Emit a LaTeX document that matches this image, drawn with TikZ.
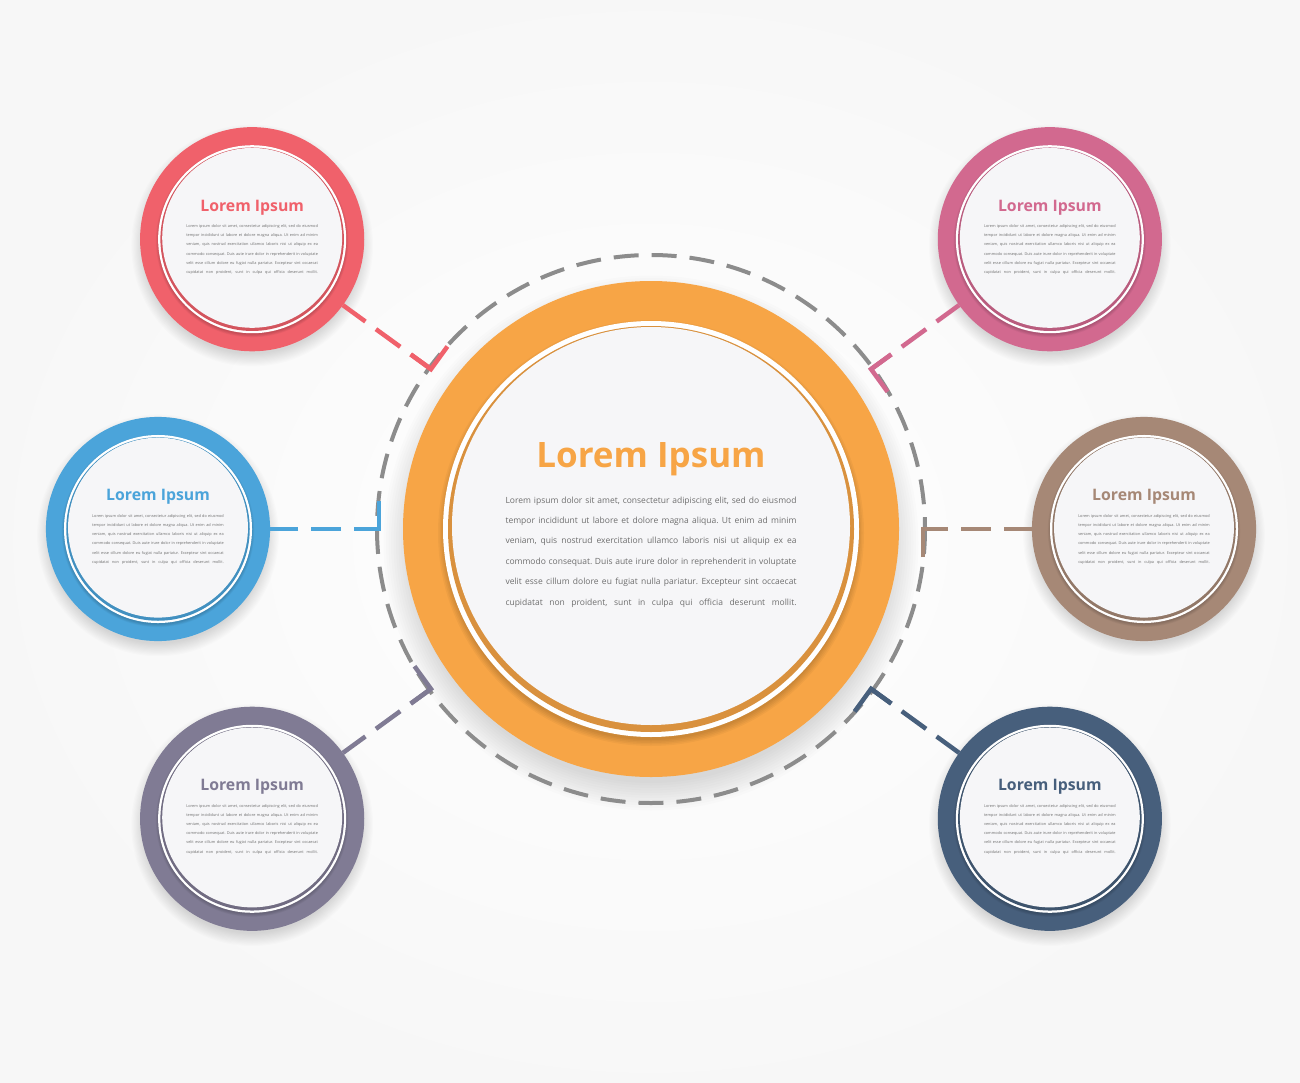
\documentclass[tikz,border=0pt]{standalone}
\usepackage{fontspec}
\setmainfont{Open Sans}
\usetikzlibrary{calc}
\definecolor{cRed}{HTML}{F0616B}
\definecolor{cPink}{HTML}{D2698F}
\definecolor{cBlue}{HTML}{4BA4DA}
\definecolor{cBrown}{HTML}{A68876}
\definecolor{cPurple}{HTML}{807B94}
\definecolor{cNavy}{HTML}{475F7C}
\definecolor{cOrange}{HTML}{F7A546}
\definecolor{cDash}{HTML}{8C8C8C}
\definecolor{cBody}{HTML}{6E6E6E}
\definecolor{cFill}{HTML}{F6F6F8}
\frenchspacing
\tikzset{
  conn/.style={line width=4.5pt},
  titlefont/.style={font=\fontsize{35}{40}\selectfont\bfseries},
  bodyfont/.style={font=\fontsize{8.5}{10}\selectfont},
  pics/infocircle/.style={code={
    \foreach \k in {0,...,11}
      \fill[black, opacity=0.012] (0,14) circle[radius=240+\k*2.5];
    \fill[#1] (0,0) circle[radius=248];
    \foreach \k in {0,...,4}
      \fill[black, opacity=0.035] (0,4) circle[radius=207+\k*1.5];
    \fill[white] (0,0) circle[radius=208];
    \fill[#1!88!black] (0,0) circle[radius=203];
    \fill[cFill] (0,-3) circle[radius=199];
    \node[circle, minimum size=496, inner sep=0, outer sep=0] (-disk) at (0,0) {};
    \node[anchor=base, inner sep=0, text=#1, titlefont] (-title) at (0,-62) {Lorem Ipsum};
    \foreach \t [count=\i] in {
      {Lorem ipsum dolor sit amet, consectetur adipiscing elit, sed do eiusmod},
      {tempor incididunt ut labore et dolore magna aliqua. Ut enim ad minim},
      {veniam, quis nostrud exercitation ullamco laboris nisi ut aliquip ex ea},
      {commodo consequat. Duis aute irure dolor in reprehenderit in voluptate},
      {velit esse cillum dolore eu fugiat nulla pariatur. Excepteur sint occaecat},
      {cupidatat non proident, sunt in culpa qui officia deserunt mollit.}}
      \node[anchor=base, inner sep=0, text=cBody, bodyfont] (-l\i) at (0,{-26+20.4*(\i-1)}) {\makebox[291pt][s]{\t}};
  }}
}
\begin{document}
\begin{tikzpicture}[x=1pt, y=-1pt]
\useasboundingbox (0,0) rectangle (1300,1083);
\shade[inner color=white, outer color=black!3] (0,0) rectangle (1300,1083);
\coordinate (C) at (651,529);
% central circle
\pic (ctr) at (C) {infocircle=cOrange};
% satellites (polar angles are mirrored because the y axis points down)
\pic[scale=0.452, transform shape] (red) at ($(C)+(-144:493)$) {infocircle=cRed};
\pic[scale=0.452, transform shape] (blue) at ($(C)+(180:493)$) {infocircle=cBlue};
\pic[scale=0.452, transform shape] (purple) at ($(C)+(144:493)$) {infocircle=cPurple};
\pic[scale=0.452, transform shape] (pink) at ($(C)+(-36:493)$) {infocircle=cPink};
\pic[scale=0.452, transform shape] (brown) at ($(C)+(0:493)$) {infocircle=cBrown};
\pic[scale=0.452, transform shape] (navy) at ($(C)+(36:493)$) {infocircle=cNavy};
% dashed ring
\draw[cDash, line width=4pt, dash pattern=on 25pt off 13pt] (C) circle[radius=274];
% connectors
\foreach \nm/\ang/\col in {red/-144/cRed, blue/180/cBlue, purple/144/cPurple, pink/-36/cPink, brown/0/cBrown, navy/36/cNavy}{
  \coordinate (\nm-corner) at ($(C)+(\ang:272)$);
  \coordinate (\nm-tick) at ($(\nm-corner)+({\ang+90}:28)$);
  \draw[conn, \col, dash pattern=on 30pt off 13pt, dash phase=5pt] (\nm-corner) -- (\nm-disk);
  \draw[conn, \col] (\nm-tick) -- (\nm-corner) -- ($(\nm-corner)!25pt!(\nm-disk)$);
}
\end{tikzpicture}
\end{document}
